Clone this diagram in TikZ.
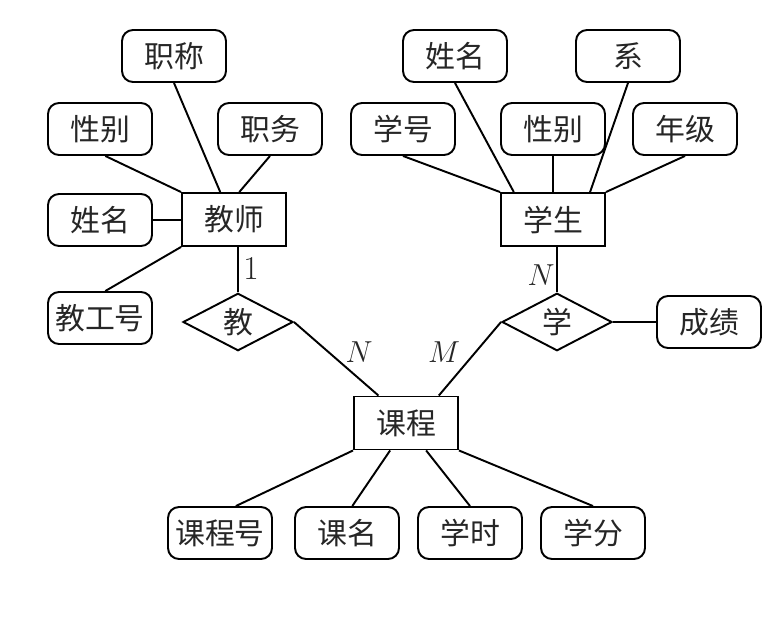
\documentclass[tikz,border=0pt]{standalone}
\usepackage{fontspec}
\newfontfamily\cjk{Noto Sans CJK SC}
\usetikzlibrary{calc,shapes.geometric}
\tikzset{
  attr/.style={draw, rounded corners=0.22cm, minimum width=2.08cm, minimum height=1.04cm,
    inner sep=0pt, font=\cjk\fontsize{17}{19}\selectfont, text=black!85},
  ent/.style={draw, minimum width=2.08cm, minimum height=1.06cm,
    inner sep=0pt, font=\cjk\fontsize{17}{19}\selectfont, text=black!85},
  rel/.style={draw, diamond, minimum width=2.2cm, minimum height=1.12cm,
    inner sep=0pt, font=\cjk\fontsize{17}{19}\selectfont, text=black!85},
  card/.style={font=\fontsize{19}{22}\selectfont, text=black!85}
}
\begin{document}
\begin{tikzpicture}[x=0.02cm, y=-0.02cm, line width=1.1pt]
			\useasboundingbox (0, 0) rectangle (778, 632);
			
			%%%%% teacher %%%%%
			\node[attr] (zc) at (174, 56) {职称};
			\node[attr] (xb1) at (100, 129) {性别};
			\node[attr] (zw) at (270, 129) {职务};
			\node[attr] (xm1) at (100, 220) {姓名};
			\node[attr] (jgh) at (100, 318) {教工号};
			\node[ent] (js) at (234, 219.5) {教师};
			\node[rel] (jiao) at (238, 322) {教};
			
			\draw (zc.south) -- ($(js.north west)!.37!(js.north east)$);
			\draw (zw.south) -- ($(js.north west)!.55!(js.north east)$);
			\draw ($(xb1.south)!.1!(xb1.south east)$) -- (js.north west);
			\draw (xm1.east) -- (xm1.east -| js.west);
			\draw ($(jgh.north)!.1!(jgh.north east)$) -- (js.south west);
			\draw (jiao.north) -- (jiao.north |- js.south);
			\node[card] (one) at (251, 268) {1};
			
			%%%%% student %%%%%
			\node[attr] (xm2) at (455, 56) {姓名};
			\node[attr] (xi) at (628, 56) {系};
			\node[attr] (xh) at (403, 129) {学号};
			\node[attr] (xb2) at (553, 129) {性别};
			\node[attr] (nj) at (685, 129) {年级};
			\node[ent] (xs) at (553, 219.5) {学生};
			\node[rel] (xue) at (557, 322) {学};
			\node[attr] (cj) at (709, 322) {成绩};
			
			\draw (xm2.south) -- ($(xs.north west)!.13!(xs.north east)$);
			\draw (xi.south) -- ($(xs.north west)!.85!(xs.north east)$);
			\draw (xh.south) -- (xs.north west);
			\draw (xb2.south) -- (xb2.south |- xs.north);
			\draw (nj.south) -- (xs.north east);
			\draw (xue.north) -- (xue.north |- xs.south);
			\draw (xue.east) -- (cj.west);
			\node[card] (n1) at (541, 275) {$N$};
			
			%%%%% course %%%%%
			\node[ent] (kc) at (406, 423) {课程};
			\node[attr] (khh) at (220, 533) {课程号};
			\node[attr] (km) at (347, 533) {课名};
			\node[attr] (xsh) at (470, 533) {学时};
			\node[attr] (xf) at (593, 533) {学分};
			
			\draw (jiao.east) -- ($(kc.north west)!.24!(kc.north east)$);
			\draw (xue.west) -- ($(kc.north west)!.81!(kc.north east)$);
			\node[card] (n2) at (359, 352) {$N$};
			\node[card] (m1) at (444, 352) {$M$};
			
			\draw (kc.south west) -- ($(khh.north)!.3!(khh.north east)$);
			\draw ($(kc.south west)!.35!(kc.south east)$) -- ($(km.north)!.1!(km.north east)$);
			\draw ($(kc.south west)!.69!(kc.south east)$) -- (xsh.north);
			\draw (kc.south east) -- (xf.north);
\end{tikzpicture}
\end{document}
